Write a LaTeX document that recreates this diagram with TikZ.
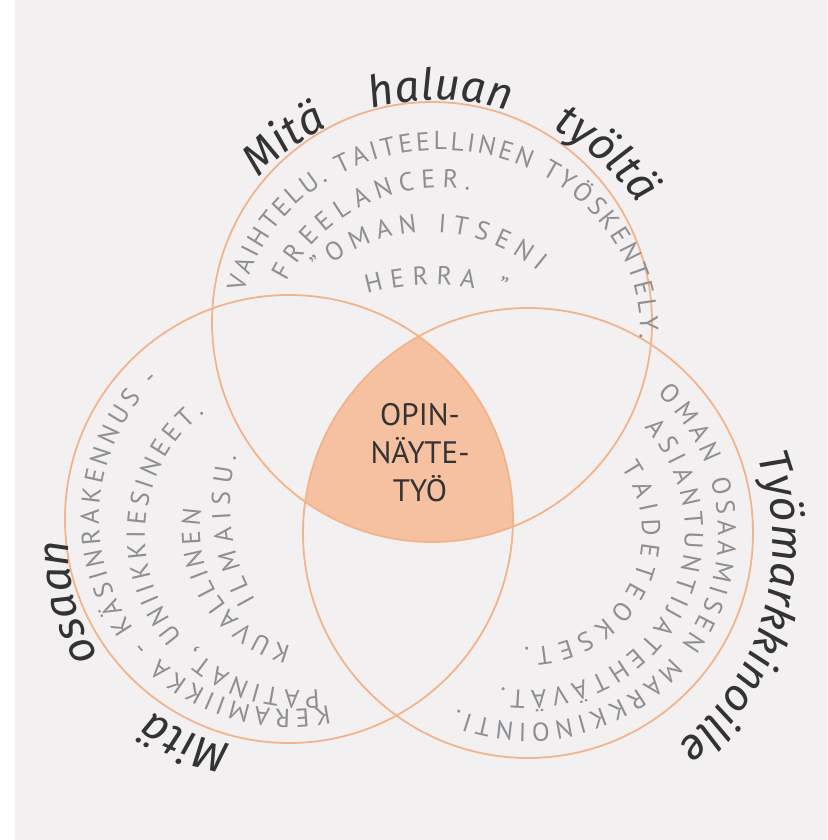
\documentclass[tikz,border=0pt]{standalone}
\usepackage{fontspec}
\setmainfont{PT Sans}
\newfontfamily\handfam{Fira Sans}
\usetikzlibrary{decorations.text}

\definecolor{paper}{HTML}{F2F0F1}
\definecolor{rim}{HTML}{F2B48C}
\definecolor{peach}{HTML}{F5C1A0}
\definecolor{pencil}{HTML}{8F8E93}
\definecolor{ink}{HTML}{333333}

\newcommand{\pencilfont}{\fontsize{26}{26}\selectfont}
\newcommand{\handfont}{\handfam\itshape\fontsize{44}{44}\selectfont}
\newcommand{\centerfont}{\fontsize{31}{38}\selectfont}

\begin{document}
\begin{tikzpicture}[
    x=1pt, y=1pt,
    ring/.style={draw=rim, line width=1.8pt},
    ring text/.style={decorate, decoration={text along path, text align=fit to path, text color=pencil, text={|\pencilfont|#1}}},
    hand text/.style={decorate, decoration={text along path, text align=fit to path stretching spaces, text color=ink, text={|\handfont|#1}}},
    hand word/.style={decorate, decoration={text along path, text align=center, text color=ink, text={|\handfont|#1}}}
]

% Paper
\useasboundingbox (0,0) rectangle (827,840);
\fill[white] (0,0) rectangle (827,840);
\fill[paper] (15,0) rectangle (827,840);

% Circle centres
\coordinate (ctop) at (432,518);
\coordinate (cleft) at (289,321);
\coordinate (cright) at (528,307);

% Common part
\begin{scope}
  \clip (ctop) circle[radius=220];
  \clip (cleft) circle[radius=224];
  \fill[peach] (cright) circle[radius=225];
\end{scope}

% Circles
\draw[ring] (ctop) circle[radius=220];
\draw[ring] (cleft) circle[radius=224];
\draw[ring] (cright) circle[radius=225];

% Centre label
\node[font=\centerfont, text=ink, align=center] (opin) at (420,387) {OPIN-\\NÄYTE-\\TYÖ};

% Top circle
\path[hand text={Mitä haluan työltä}] ([shift={(438,495)}]137:245) arc[start angle=137, end angle=35, radius=245];
\path[ring text={VAIHTELU. TAITEELLINEN TYÖSKENTELY.}] ([shift={(440,510)}]168:200 and 180) arc[start angle=168, end angle=-3, x radius=200, y radius=180];
\path[ring text={FREELANCER.}] ([shift={(440,480)}]153:172) arc[start angle=153, end angle=80, radius=172];
\path[ring text={”OMAN ITSENI}] ([shift={(430,440)}]131:168) arc[start angle=131, end angle=50, radius=168];
\path[ring text={HERRA ”}] ([shift={(432,320)}]106:235) arc[start angle=106, end angle=72, radius=235];

% Left circle
\path[hand text={Mitä osaan}] ([shift={(261,286)}]-99:192) arc[start angle=-99, end angle=-184, radius=192];
\path[ring text={KERAMIIKKA - KÄSINRAKENNUS -}] ([shift={(289,321)}]-78:190) arc[start angle=-78, end angle=-227, radius=190];
\path[ring text={PATINAT, UNIIKKIESINEET.}] ([shift={(300,305)}]-83:155) arc[start angle=-83, end angle=-232, radius=155];
\path[ring text={KUVALLINEN}] ([shift={(320,310)}]-104:120) arc[start angle=-104, end angle=-190, radius=120];
\path[ring text={ILMAISU.}] ([shift={(420,335)}]210:190) arc[start angle=210, end angle=165, radius=190];

% Right circle
\path[hand word={Työmarkkinoille}] ([shift={(515,295)}]20:258) arc[start angle=20, end angle=-51, radius=258];
\path[ring text={OMAN OSAAMISEN MARKKINOINTI.}] ([shift={(528,307)}]47:190) arc[start angle=47, end angle=-112, radius=190];
\path[ring text={ASIANTUNTIJATEHTÄVÄT.}] ([shift={(528,307)}]42:157) arc[start angle=42, end angle=-100, radius=157];
\path[ring text={TAIDETEOKSET.}] ([shift={(528,307)}]35:114) arc[start angle=35, end angle=-92, radius=114];

\end{tikzpicture}
\end{document}
